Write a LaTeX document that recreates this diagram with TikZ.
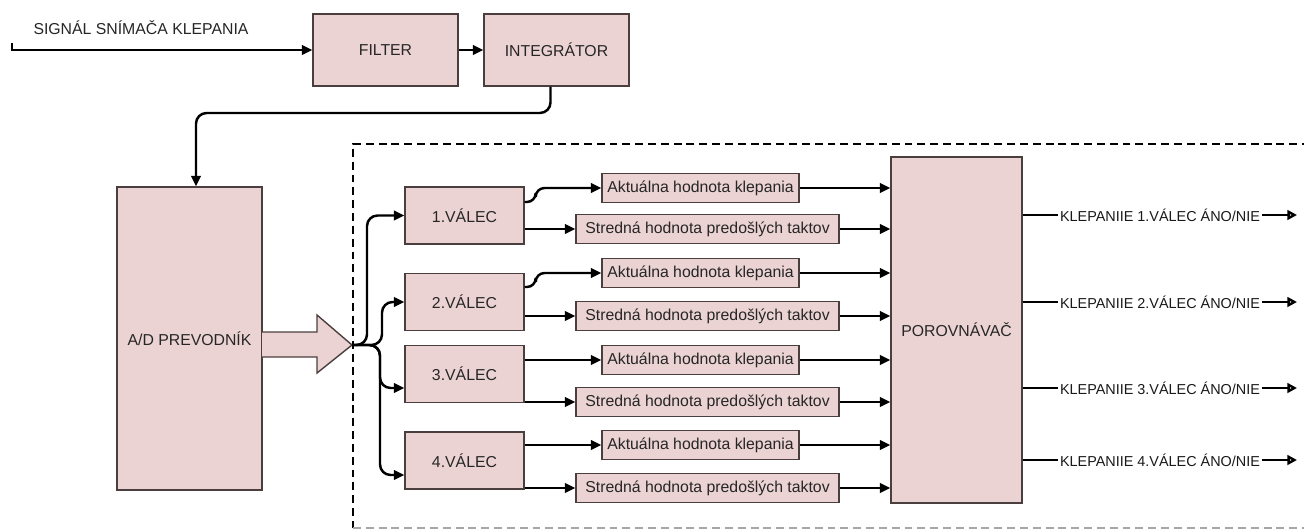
\documentclass[tikz,border=0pt]{standalone}
\usepackage{fontspec}
\setmainfont{Liberation Sans}
\usepackage{xcolor}
\usepackage{tikz}
\usetikzlibrary{arrows.meta,positioning}

\definecolor{boxpink}{RGB}{236,211,211}
\definecolor{boxline}{RGB}{75,62,62}

\begin{document}
\begin{tikzpicture}[x=0.02cm, y=-0.02cm,
    blok/.style={rectangle, draw=boxline, line width=0.8pt, fill=boxpink,
                 inner sep=0pt, font=\fontsize{9}{10}\selectfont, text=black!85},
    bigblok/.style={blok, minimum width=2.9cm, minimum height=1.44cm},
    valec/.style={blok, minimum width=2.38cm, minimum height=1.14cm},
    akt/.style={blok, minimum width=3.94cm, minimum height=0.58cm},
    stred/.style={blok, minimum width=5.26cm, minimum height=0.58cm},
    outtxt/.style={inner sep=1pt, font=\fontsize{8.2}{10}\selectfont, text=black!90},
    arr/.style={-{Triangle[length=6pt,width=5.5pt]}, line width=1.4pt, black},
    outarr/.style={-{Triangle[open,length=5.5pt,width=5.5pt]}, line width=1.4pt, black},
    frame/.style={line width=1.3pt, dash pattern=on 4.5pt off 2.8pt}
]
    \useasboundingbox (0,0) rectangle (1304,531);

    % dashed area
    \draw[frame] (1310,144) -- (353,144) -- (353,528);
    \draw[frame, black!35] (353,528) -- (1310,528);

    % input chain
    \coordinate (sigtop) at (12,43);
    \coordinate (sig) at (12,50);
    \node[font=\fontsize{9}{10}\selectfont, text=black!85] (sigtxt) at (141,28) {SIGNÁL SNÍMAČA KLEPANIA};
    \node[bigblok] (FIL) at (385.5,50) {FILTER};
    \node[bigblok] (INT) at (556.5,50) {INTEGRÁTOR};
    \node[blok, minimum width=2.9cm, minimum height=6.06cm] (AD) at (189.5,338.5) {A/D PREVODNÍK};
    \coordinate (bend) at (196,113);
    \coordinate (split) at (352,345);

    % cylinders
    \node[valec] (V1) at (464.5,215.5) {1.VÁLEC};
    \node[valec] (V2) at (464.5,302) {2.VÁLEC};
    \node[valec] (V3) at (464.5,374) {3.VÁLEC};
    \node[valec] (V4) at (464.5,460.5) {4.VÁLEC};

    \node[akt] (A1) at (700.5,188) {Aktuálna hodnota klepania};
    \node[stred] (S1) at (707.5,229) {Stredná hodnota predošlých taktov};
    \node[akt] (A2) at (700.5,273) {Aktuálna hodnota klepania};
    \node[stred] (S2) at (707.5,316) {Stredná hodnota predošlých taktov};
    \node[akt] (A3) at (700.5,360) {Aktuálna hodnota klepania};
    \node[stred] (S3) at (707.5,402) {Stredná hodnota predošlých taktov};
    \node[akt] (A4) at (700.5,445) {Aktuálna hodnota klepania};
    \node[stred] (S4) at (707.5,488) {Stredná hodnota predošlých taktov};

    \node[blok, minimum width=2.62cm, minimum height=6.92cm] (POR) at (956.5,330) {POROVNÁVAČ};

    % outputs
    \node[outtxt] (O1) at (1160,215) {KLEPANIIE 1.VÁLEC ÁNO/NIE};
    \node[outtxt] (O2) at (1160,302) {KLEPANIIE 2.VÁLEC ÁNO/NIE};
    \node[outtxt] (O3) at (1160,388) {KLEPANIIE 3.VÁLEC ÁNO/NIE};
    \node[outtxt] (O4) at (1160,460) {KLEPANIIE 4.VÁLEC ÁNO/NIE};
    \coordinate (E1) at (1297,215);
    \coordinate (E2) at (1297,302);
    \coordinate (E3) at (1297,388);
    \coordinate (E4) at (1297,460);

    \draw[arr] (sigtop) -- (sig) -- (FIL);
    \draw[arr] (FIL) -- (INT);
    \draw[arr, rounded corners=6pt] ([xshift=-0.12cm]INT.south) |- (bend) -- (AD.north -| bend);

    % wide arrow out of A/D
    \draw[draw=boxline, line width=0.8pt, fill=boxpink]
        (262,332) -- (317,332) -- (317,315) -- (split) -- (317,373) -- (317,357) -- (262,357);

    \draw[arr, rounded corners=6pt] (split) -- ++(15,0) |- (V1.west);
    \draw[arr, rounded corners=6pt] (split) -- ++(30,0) |- (V2.west);
    \draw[arr, rounded corners=6pt] (split) -- ++(28,0) |- ([yshift=-0.28cm]V3.west);
    \draw[arr, rounded corners=6pt] (split) -- ++(28,0) |- ([yshift=-0.29cm]V4.west);

    \draw[arr, rounded corners=5pt] ([yshift=0.27cm]V1.east) -- ++(11,0) |- (A1.west);
    \draw[arr] (S1.west -| V1.east) -- (S1.west);
    \draw[arr, rounded corners=5pt] ([yshift=0.3cm]V2.east) -- ++(11,0) |- (A2.west);
    \draw[arr] (S2.west -| V2.east) -- (S2.west);
    \draw[arr] (A3.west -| V3.east) -- (A3.west);
    \draw[arr] (S3.west -| V3.east) -- (S3.west);
    \draw[arr] (A4.west -| V4.east) -- (A4.west);
    \draw[arr] (S4.west -| V4.east) -- (S4.west);

    \draw[arr] (A1) -- (A1 -| POR.west);
    \draw[arr] (S1) -- (S1 -| POR.west);
    \draw[arr] (A2) -- (A2 -| POR.west);
    \draw[arr] (S2) -- (S2 -| POR.west);
    \draw[arr] (A3) -- (A3 -| POR.west);
    \draw[arr] (S3) -- (S3 -| POR.west);
    \draw[arr] (A4) -- (A4 -| POR.west);
    \draw[arr] (S4) -- (S4 -| POR.west);

    \draw[line width=1.4pt] (O1.west -| POR.east) -- (O1.west);
    \draw[line width=1.4pt] (O2.west -| POR.east) -- (O2.west);
    \draw[line width=1.4pt] (O3.west -| POR.east) -- (O3.west);
    \draw[line width=1.4pt] (O4.west -| POR.east) -- (O4.west);
    \draw[outarr] (O1) -- (E1);
    \draw[outarr] (O2) -- (E2);
    \draw[outarr] (O3) -- (E3);
    \draw[outarr] (O4) -- (E4);
\end{tikzpicture}
\end{document}
